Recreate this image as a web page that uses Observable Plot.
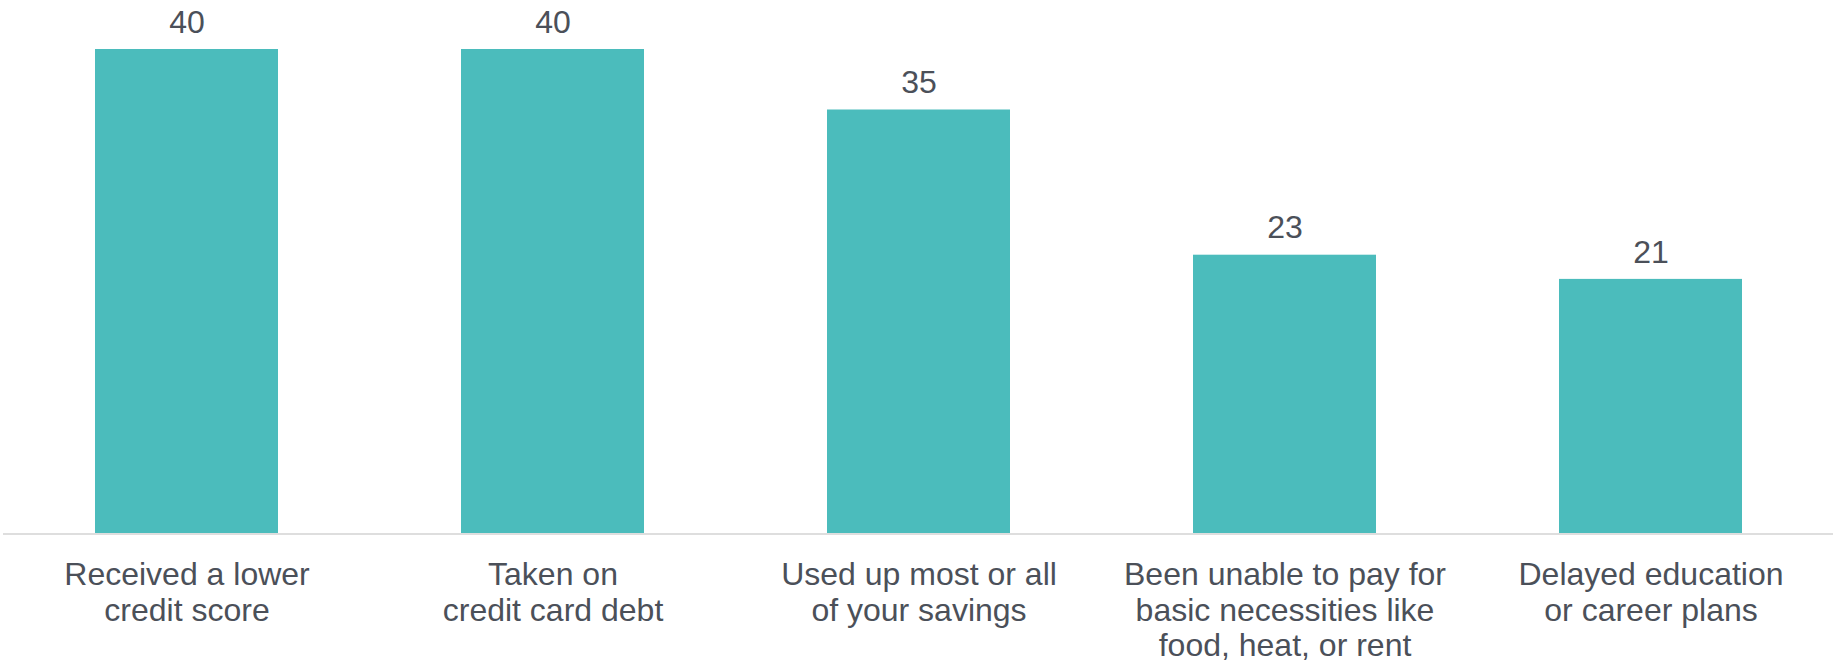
<!DOCTYPE html>
<html>
<head>
<meta charset="utf-8">
<script src="https://cdn.jsdelivr.net/npm/d3@7"></script>
<script src="https://cdn.jsdelivr.net/npm/@observablehq/plot@0.6"></script>
<style>
  html, body { margin: 0; padding: 0; background: #ffffff; }
  #chart svg { display: block; }
</style>
</head>
<body>
<div id="chart"></div>
<script>
const categories = [
  "Received a lower\ncredit score",
  "Taken on\ncredit card debt",
  "Used up most or all\nof your savings",
  "Been unable to pay for\nbasic necessities like\nfood, heat, or rent",
  "Delayed education\nor career plans"
];
const values = [40, 40, 35, 23, 21];

const data = categories.map((c, i) => ({category: c, value: values[i]}));

const barColor = "#4bbcbc";
const textColor = "#4b5059";
const font = "'Liberation Sans', Arial, sans-serif";

const chart = Plot.plot({
  width: 1833,
  height: 663,
  marginTop: 49,
  marginBottom: 130,
  marginLeft: 3,
  marginRight: 0,
  style: {fontFamily: font, background: "#ffffff", overflow: "visible"},
  x: {domain: categories, range: [3.4, 1834.6], paddingInner: 0.5, paddingOuter: 0.25, label: null},
  y: {domain: [0, 40], axis: null},
  marks: [
    Plot.barY(data, {x: "category", y: "value", fill: barColor}),
    Plot.ruleY([0], {stroke: "#dedede", strokeWidth: 2, dy: 0.5}),
    Plot.text(data, {
      x: "category", y: "value", text: d => String(d.value),
      dy: -27, fontSize: 32, fill: textColor, fontFamily: font
    }),
    Plot.axisX({
      tickSize: 0, tickPadding: 26, fontSize: 32, lineHeight: 1.117,
      color: textColor, fill: textColor, label: null, fontFamily: font
    })
  ]
});
document.getElementById("chart").appendChild(chart);
</script>
</body>
</html>
